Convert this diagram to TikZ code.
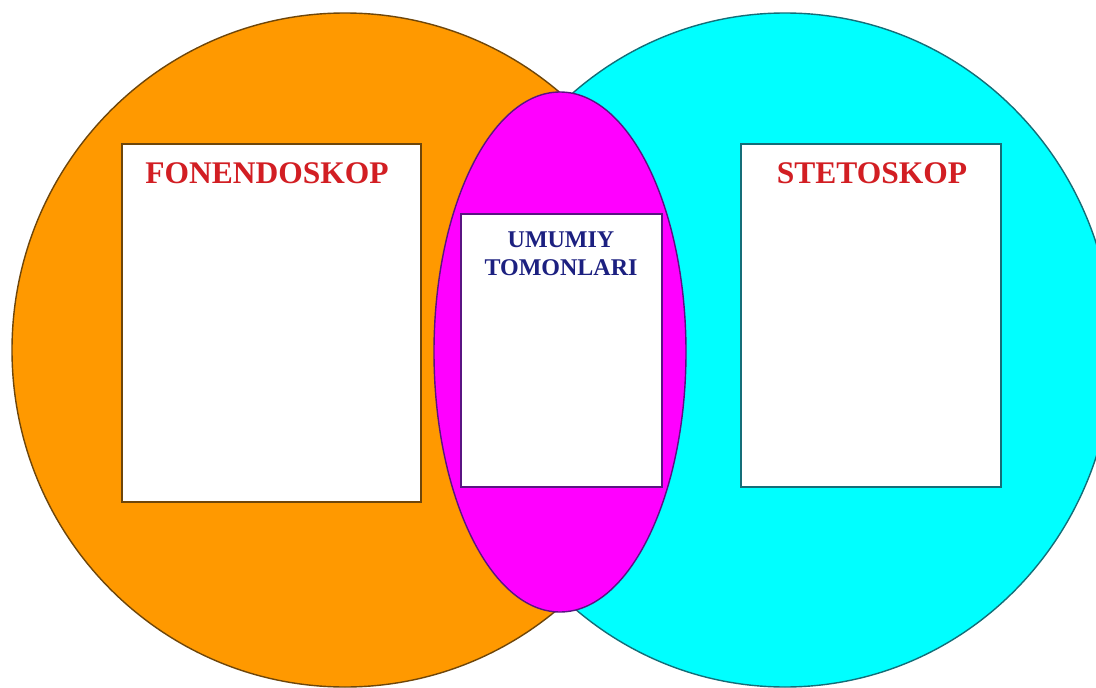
\documentclass[tikz,border=0pt]{standalone}
\usepackage{fontspec}
\setmainfont{Liberation Serif}
\definecolor{vorange}{RGB}{255,153,0}
\definecolor{vorangeline}{RGB}{110,70,10}
\definecolor{vcyan}{RGB}{0,255,255}
\definecolor{vcyanline}{RGB}{20,110,120}
\definecolor{vmagenta}{RGB}{255,0,255}
\definecolor{vmagentaline}{RGB}{90,20,130}
\definecolor{vred}{RGB}{210,30,35}
\definecolor{vnavy}{RGB}{28,32,128}
\tikzset{
  setshape/.style={line width=1.4pt},
  textbox/.style={draw, fill=white, line width=1.6pt, inner sep=0pt, minimum width=#1},
  redtitle/.style={text=vred, font=\fontsize{31.5}{34}\selectfont\bfseries, anchor=base, inner sep=0pt},
  navytitle/.style={text=vnavy, font=\fontsize{24}{28}\selectfont\bfseries, anchor=base, inner sep=0pt}
}
\begin{document}
\begin{tikzpicture}[x=1pt,y=-1pt]
\useasboundingbox (0,0) rectangle (1096,688);
\fill[white] (0,0) rectangle (1096,688);
% sets
\draw[setshape, fill=vorange, draw=vorangeline] (345,350) ellipse [x radius=333, y radius=337];
\draw[setshape, fill=vcyan, draw=vcyanline] (785,350) ellipse [x radius=328, y radius=337];
\draw[setshape, fill=vmagenta, draw=vmagentaline] (560,352) ellipse [x radius=126, y radius=260];
% boxes
\node[textbox=299pt, draw=vorangeline, minimum height=358pt] (lbox) at (271.5,323) {};
\node[textbox=260pt, draw=vcyanline, minimum height=343pt] (rbox) at (871,315.5) {};
\node[textbox=201pt, draw=vmagentaline, minimum height=273pt] (mbox) at (561.5,350.5) {};
% titles
\node[redtitle] (ltitle) at (267,183.5) {FONENDOSKOP};
\node[redtitle] (rtitle) at (872,183.5) {STETOSKOP};
\node[navytitle] (mtitle1) at (561,247) {UMUMIY};
\node[navytitle] (mtitle2) at (561,275) {TOMONLARI};
\end{tikzpicture}
\end{document}
